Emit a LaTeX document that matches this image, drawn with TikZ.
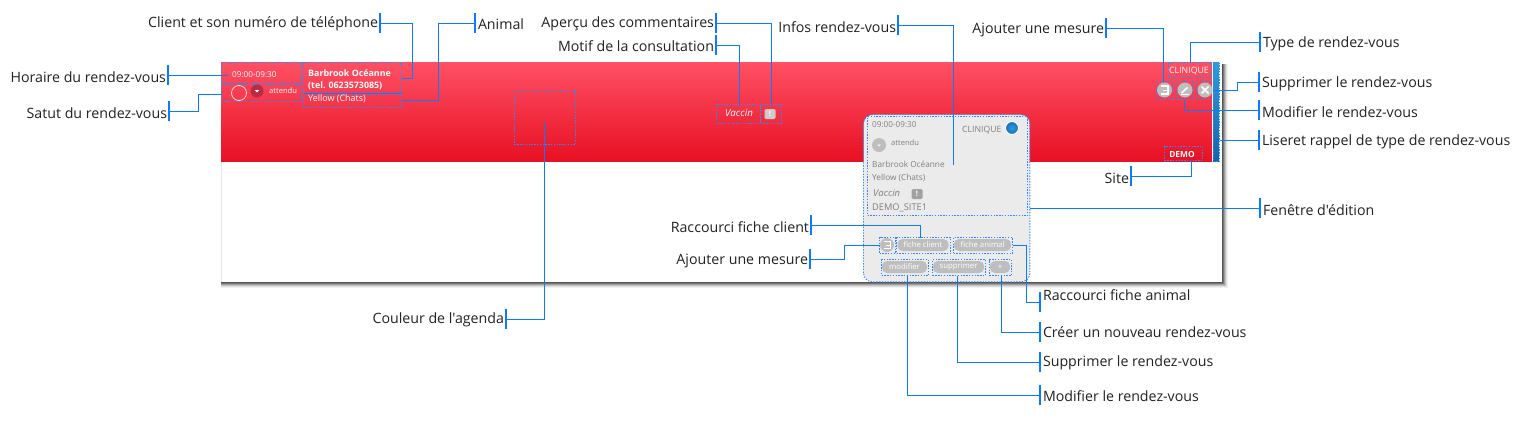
\documentclass[tikz,border=0pt]{standalone}
\usepackage{fontspec}
\setmainfont{Open Sans}
\newfontfamily\labfont{Open Sans}
\usetikzlibrary{calc}
\definecolor{lblue}{HTML}{0A7BFF}
\definecolor{dblue}{HTML}{2F88F8}
\definecolor{popgrey}{HTML}{EBEBEB}
\definecolor{pillgrey}{HTML}{BEBEBE}
\definecolor{poptext}{HTML}{7F7F7F}
\definecolor{labtext}{HTML}{222222}
\tikzset{
  x=1bp,y=-1bp,
  bar/.style={draw=none,fill=lblue,minimum width=2bp,minimum height=20bp,inner sep=0pt,outer sep=0pt},
  lab/.style={font=\labfont\fontsize{14.25}{16}\selectfont,text=labtext,inner sep=0pt,outer sep=0pt},
  conn/.style={draw=lblue,line width=1bp},
  dots/.style={draw=dblue,dash pattern=on 1.4bp off 1.4bp,line width=0.9bp},
  dbox/.style={dots,inner sep=0pt,outer sep=0pt,anchor=north west},
  wtext/.style={text=white,inner sep=0pt,font=\fontsize{8.2}{10}\selectfont},
  gtext/.style={text=poptext,inner sep=0pt,font=\fontsize{8.2}{10}\selectfont},
  pill/.style={fill=pillgrey,rounded corners=5pt,inner sep=0pt,text=white,font=\fontsize{7.8}{9}\selectfont,minimum height=12bp},
  icon/.style={circle,fill=pillgrey,inner sep=0pt,minimum size=15bp},
  excl/.style={fill=#1,rounded corners=1.5pt,inner sep=0pt,minimum width=11bp,minimum height=10bp,text=white,font=\bfseries\fontsize{7.5}{8}\selectfont},
}
\newcommand{\dotbox}[5]{\node[dbox,minimum width=#4bp,minimum height=#5bp] (#1) at (#2+0.5,#3+0.5) {};}
\begin{document}
\begin{tikzpicture}
\useasboundingbox (0,0) rectangle (1525,421);
\fill[white] (0,0) rectangle (1525,421);
% window shadow
\foreach \d/\o in {6/0.05,5/0.08,4/0.12,3/0.18,2/0.25,1/0.3}{
  \fill[black,opacity=\o] (221,64) rectangle (1222+\d,282+\d);
}
\fill[white] (221,62) rectangle (1222,282);
\draw[black!10,line width=0.5bp] (221,161) -- (221,282);
% red band
\shade[top color={rgb,255:red,255;green,80;blue,100},bottom color={rgb,255:red,232;green,16;blue,36}] (221,62) rectangle (1212,161);
\shade[top color={rgb,255:red,44;green,156;blue,220},bottom color={rgb,255:red,22;green,100;blue,170}] (1213,62) rectangle (1219,161);
\draw[white,opacity=.35,line width=0.8bp] (1212.4,62) -- (1212.4,161);
% band boxes
\dotbox{bHor}{221}{62}{80}{21}
\dotbox{bStat}{221}{84}{80}{17}
\dotbox{bCli}{303}{62}{98}{31}
\dotbox{bAni}{303}{94}{98}{13}
\dotbox{bCoul}{514}{90}{61}{54}
\dotbox{bMot}{716}{104}{44}{19}
\dotbox{bCom}{760}{104}{21}{19}
\dotbox{bType}{1168}{62}{43}{15}
\dotbox{bMes}{1156}{81}{17}{18}
\dotbox{bMod}{1177}{81}{16}{18}
\dotbox{bSup}{1196}{81}{17}{18}
\dotbox{bSite}{1164}{146}{38}{14}
\dotbox{bLis}{1213}{62}{6}{99}
% band content
\node[wtext,anchor=west] (tHor) at (232,75) {09:00-09:30};
\node[circle,draw=white!85!red,line width=0.8bp,minimum size=15bp,inner sep=0pt] (cStat) at (239,93) {};
\node[circle,fill={rgb,255:red,184;green,44;blue,68},minimum size=13bp,inner sep=0pt] (cDrop) at (257,91) {};
\fill[white] (254.8,90) -- (259.2,90) -- (257,92.4) -- cycle;
\node[wtext,anchor=west,font=\fontsize{7.6}{9}\selectfont] (tAtt) at (269,91) {attendu};
\node[wtext,anchor=west,font=\bfseries\fontsize{8.9}{10}\selectfont] (tCli) at (308,73.5) {Barbrook Océanne};
\node[wtext,anchor=west,font=\bfseries\fontsize{8.9}{10}\selectfont] (tTel) at (308,86) {(tel. 0623573085)};
\node[wtext,anchor=west,font=\fontsize{9}{10}\selectfont] (tAni) at (308,99) {Yellow (Chats)};
\node[wtext,font=\itshape\fontsize{9.8}{10}\selectfont] (tVac) at (739,113) {Vaccin};
\node[excl=pillgrey!80!white] (iCom) at (770,114) {!};
\node[wtext,font=\fontsize{8.8}{10}\selectfont] (tType) at (1189,71) {CLINIQUE};
\node[icon] (iMes) at (1164.5,90) {};
\draw[white,line width=1.2bp] (1161,86) -- (1168,86) -- (1168,94) -- (1161,94);
\draw[white,line width=1bp] (1163,90) -- (1168,90);
\node[icon] (iMod) at (1185,90) {};
\draw[white,line width=1.6bp] (1181.5,93) -- (1187.5,87.5);
\draw[white,line width=0.8bp] (1181,94.2) -- (1189,94.2);
\node[icon] (iSup) at (1205,90) {};
\draw[white,line width=1.6bp] (1201.5,86.5) -- (1208.5,93.5) (1208.5,86.5) -- (1201.5,93.5);
\node[wtext,font=\bfseries\fontsize{8.4}{9}\selectfont] (tSite) at (1182,154) {DEMO};
% popup
\node[fill=popgrey,rounded corners=9pt,anchor=north west,minimum width=166bp,minimum height=167bp,inner sep=0pt] (pop) at (863.5,114.5) {};
\draw[dots,rounded corners=9pt] (pop.south west) rectangle (pop.north east);
\dotbox{bInfo}{867}{116}{160}{99}
\node[gtext,anchor=west] (pHor) at (872,125) {09:00-09:30};
\node[circle,fill=pillgrey,minimum size=14bp,inner sep=0pt] (pDrop) at (879,145) {};
\fill[white] (877.2,144.5) -- (880.8,144.5) -- (879,146.5) -- cycle;
\node[gtext,anchor=west,font=\fontsize{7.6}{9}\selectfont] (pAtt) at (891,143) {attendu};
\node[gtext,anchor=west,font=\fontsize{8.7}{10}\selectfont] (pTyp) at (962,130) {CLINIQUE};
\node[circle,draw=white,line width=1bp,inner color={rgb,255:red,44;green,156;blue,220},outer color={rgb,255:red,22;green,110;blue,185},minimum size=13bp,inner sep=0pt] (pCir) at (1012,128) {};
\node[gtext,anchor=west,font=\fontsize{8.3}{10}\selectfont] (pCli) at (872,164) {Barbrook Océanne};
\node[gtext,anchor=west,font=\fontsize{8.3}{10}\selectfont] (pAni) at (872,178) {Yellow (Chats)};
\node[gtext,anchor=west,font=\itshape\fontsize{9.5}{10}\selectfont] (pVac) at (873,193) {Vaccin};
\node[excl=pillgrey!85!black] (pCom) at (917,194) {!};
\node[gtext,anchor=west,font=\fontsize{9.3}{10}\selectfont] (pSite) at (872,208) {DEMO\_SITE1};
% popup buttons
\node[icon,minimum size=14bp] (pMes) at (887,245) {};
\draw[white,line width=1bp] (884,241.5) -- (890,241.5) -- (890,248.5) -- (884,248.5);
\draw[white,line width=0.8bp] (885.5,245) -- (890,245);
\node[pill,minimum width=51bp] (pFc) at (923,245) {fiche client};
\node[pill,minimum width=57bp] (pFa) at (982.5,245) {fiche animal};
\node[pill,minimum width=45bp] (pMo) at (904.5,267) {modifier};
\node[pill,minimum width=51bp] (pSu) at (958.5,267) {supprimer};
\node[pill,minimum width=20bp] (pPl) at (1000,267) {+};
\dotbox{bpMes}{879}{237}{16}{16}
\dotbox{bpFc}{896}{237}{54}{16}
\dotbox{bpFa}{953}{237}{59}{16}
\dotbox{bpMo}{881}{259}{47}{16}
\dotbox{bpSu}{932}{259}{53}{16}
\dotbox{bpPl}{989}{259}{22}{16}
% label bars
\node[bar] (kCli) at (380,23) {};
\node[bar] (kAni) at (475,23) {};
\node[bar] (kHor) at (168,75) {};
\node[bar] (kSta) at (169,111) {};
\node[bar] (kCom) at (716,23) {};
\node[bar] (kMot) at (716,45) {};
\node[bar] (kInf) at (898,25) {};
\node[bar] (kMes) at (1106,28) {};
\node[bar] (kTyp) at (1260,42) {};
\node[bar] (kSup) at (1259,82) {};
\node[bar] (kMod) at (1259,110) {};
\node[bar] (kLis) at (1259,140) {};
\node[bar] (kSit) at (1131,176) {};
\node[bar] (kFen) at (1260,208) {};
\node[bar] (kFc) at (811,225) {};
\node[bar] (kPm) at (810,259) {};
\node[bar] (kFa) at (1040,302) {};
\node[bar] (kCr) at (1040,332) {};
\node[bar] (kPs) at (1040,362) {};
\node[bar] (kPo) at (1040,395) {};
\node[bar] (kCou) at (506,319) {};
% label texts
\node[lab,anchor=east] (lCli) at (378,24) {Client et son numéro de téléphone};
\node[lab,anchor=west] (lAni) at (478,24) {Animal};
\node[lab,anchor=east] (lHor) at (166,77) {Horaire du rendez-vous};
\node[lab,anchor=east] (lSta) at (167,113) {Satut du rendez-vous};
\node[lab,anchor=east] (lCom) at (714,24) {Aperçu des commentaires};
\node[lab,anchor=east] (lMot) at (714,46) {Motif de la consultation};
\node[lab,anchor=east] (lInf) at (896,27) {Infos rendez-vous};
\node[lab,anchor=east] (lMes) at (1104,30) {Ajouter une mesure};
\node[lab,anchor=west] (lTyp) at (1263,44) {Type de rendez-vous};
\node[lab,anchor=west] (lSup) at (1262,84) {Supprimer le rendez-vous};
\node[lab,anchor=west] (lMod) at (1262,112) {Modifier le rendez-vous};
\node[lab,anchor=west] (lLis) at (1262,142) {Liseret rappel de type de rendez-vous};
\node[lab,anchor=east] (lSit) at (1129,178) {Site};
\node[lab,anchor=west] (lFen) at (1263,210) {Fenêtre d'édition};
\node[lab,anchor=east] (lFc) at (809,227) {Raccourci fiche client};
\node[lab,anchor=east] (lPm) at (808,261) {Ajouter une mesure};
\node[lab,anchor=west] (lFa) at (1043,295) {Raccourci fiche animal};
\node[lab,anchor=west] (lCr) at (1043,332) {Créer un nouveau rendez-vous};
\node[lab,anchor=west] (lPs) at (1043,363) {Supprimer le rendez-vous};
\node[lab,anchor=west] (lPo) at (1043,396) {Modifier le rendez-vous};
\node[lab,anchor=east] (lCou) at (504,320) {Couleur de l'agenda};
% connectors
\draw[conn] (kCli.center |- 0,23.5) -| (412.5,78.5) -- (bCli.east |- 0,78.5);
\draw[conn] (kAni.center |- 0,23.5) -| (438.5,100.5) -- (bAni.east |- 0,100.5);
\draw[conn] (bCli.south west) -- (bCli.south east);
\draw[conn] (kHor.center |- 0,75.5) -- (228,75.5);
\draw[conn] (kSta.center |- 0,111.5) -| (198.5,94.5) -- (bStat.west |- 0,94.5);
\draw[conn] (kCom.center |- 0,23.5) -| (771.5,0 |- bCom.north);
\draw[conn] (kMot.center |- 0,45.5) -| (739.5,0 |- bMot.north);
\coordinate (eInf) at (953.5,165);
\draw[conn] (kInf.center |- 0,25.5) -| (eInf);
\draw[conn] (kMes.center |- 0,28.5) -| (1163.5,0 |- bMes.north);
\draw[conn] (kTyp.center |- 0,42.5) -| (1190.5,0 |- bType.north);
\draw[conn] (kSup.center |- 0,82.5) -| (1237.5,90.5) -- (bLis.west |- 0,90.5);
\draw[conn] (kMod.center |- 0,110.5) -| (1184.5,0 |- bMod.south);
\draw[conn] (kLis.center |- 0,140.5) -- (bLis.east |- 0,140.5);
\draw[conn] (kSit.center |- 0,176.5) -| (1191.5,0 |- bSite.south);
\draw[conn] (kFen.center |- 0,208.5) -- (pop.east |- 0,208.5);
\draw[conn] (kFc.center |- 0,225.5) -| (920.5,0 |- bpFc.north);
\draw[conn] (kPm.center |- 0,259.5) -| (844.5,245.5) -- (bpMes.west |- 0,245.5);
\draw[conn] (bpFa.east |- 0,245.5) -| (1026.5,302.5) -- (kFa.center |- 0,302.5);
\draw[conn] (1001.5,0 |- bpPl.south) |- (kCr.center |- 0,332.5);
\draw[conn] (957.5,0 |- bpSu.south) |- (kPs.center |- 0,362.5);
\draw[conn] (907.5,0 |- bpMo.south) |- (kPo.center |- 0,395.5);
\coordinate (eCou) at (544.5,122);
\draw[conn] (kCou.center |- 0,319.5) -| (eCou);
\end{tikzpicture}
\end{document}
